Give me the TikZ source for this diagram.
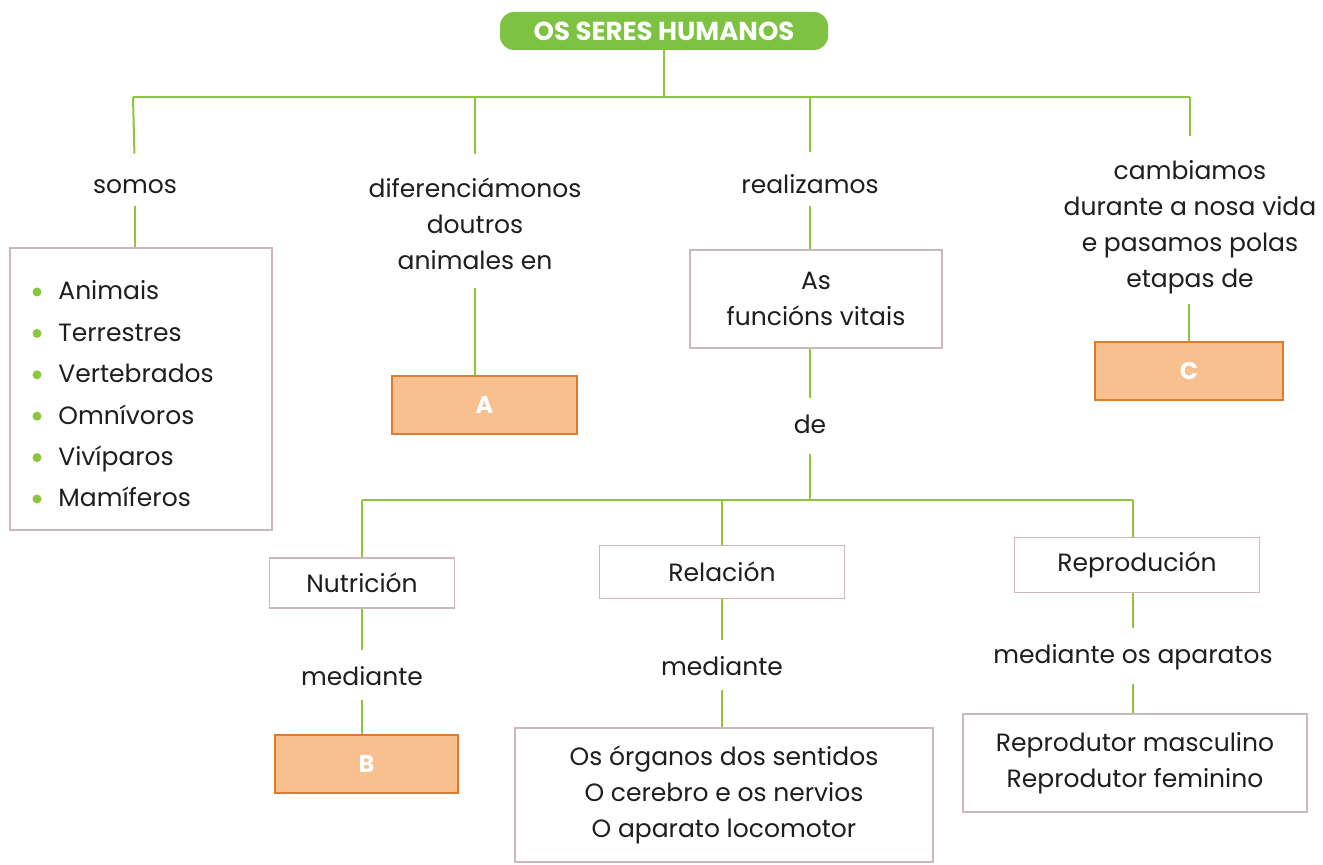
\documentclass[tikz,border=0pt]{standalone}
\usepackage{fontspec}
\setmainfont{Poppins}
\definecolor{grn}{HTML}{8CC63F}
\definecolor{grnT}{HTML}{7DC242}
\definecolor{orL}{HTML}{F9C08F}
\definecolor{orD}{HTML}{E07A2C}
\definecolor{boxc}{HTML}{CDB8C0}
\definecolor{txt}{HTML}{1E1E1E}
\newcommand{\lbf}{\fontsize{12.5pt}{18pt}\selectfont}
\tikzset{
 lbl/.style={font=\lbf, align=center, inner sep=2pt, text=txt},
 wbox/.style={draw=boxc, line width=0.8pt, fill=white, align=center, font=\lbf, text=txt, inner sep=0pt},
 obox/.style={draw=orD, fill=orL, line width=1pt, text=white, font=\bfseries\large, inner sep=0pt},
 conn/.style={draw=grn, line width=1pt},
 item/.style={font=\lbf, text=txt, anchor=base west, inner sep=0pt},
 bul/.style={circle, fill=grn, inner sep=0pt, minimum size=4.5pt}
}
\begin{document}
\begin{tikzpicture}[x=0.5pt,y=-0.5pt]
\useasboundingbox (0,0) rectangle (1323,865);
\fill[white] (0,0) rectangle (1323,865);
% title
\node[fill=grnT, rounded corners=7pt, minimum width=164pt, minimum height=19pt, text=white, font=\bfseries\fontsize{13pt}{15pt}\selectfont, inner sep=0pt] (title) at (664,31) {OS SERES HUMANOS};
\coordinate (j0) at (664,97);
\coordinate (b1) at (133,97);
\coordinate (b2) at (475,97);
\coordinate (b3) at (810,97);
\coordinate (b4) at (1190,97);
% level 1 labels
\node[lbl] (somos) at (135,187) {somos};
\node[lbl] (dif) at (475,224) {diferenciámonos\\doutros\\animales en};
\node[lbl] (real) at (810,184) {realizamos};
\node[lbl] (camb) at (1190,227) {cambiamos\\durante a nosa vida\\e pasamos polas\\etapas de};
% list box
\node[wbox, minimum width=131pt, minimum height=141pt] (list) at (141,389) {};
\foreach \t [count=\i] in {Animais,Terrestres,Vertebrados,Omnívoros,Vivíparos,Mamíferos}{
  \pgfmathsetmacro{\yy}{292+41.4*(\i-1)}
  \node[bul] (bu\i) at (37,\yy) {};
  \node[item] (it\i) at (58,\yy+8) {\t};
}
\node[obox, minimum width=92.5pt, minimum height=29pt] (A) at (484.5,405) {A};
\node[wbox, minimum width=126pt, minimum height=49pt] (fv) at (816,299) {As\\funcións vitais};
\node[obox, minimum width=94pt, minimum height=29pt] (C) at (1189,371) {C};
\node[lbl] (de) at (810,424) {de};
\coordinate (k0) at (810,500);
\coordinate (c1) at (362,500);
\coordinate (c2) at (722,500);
\coordinate (c3) at (1133,500);
% level 2
\node[wbox, minimum width=92.5pt, minimum height=25pt] (nut) at (362,583) {Nutrición};
\node[wbox, minimum width=122.5pt, minimum height=26.5pt] (rel) at (722,572) {Relación};
\node[wbox, minimum width=122.5pt, minimum height=27.5pt] (rep) at (1137,565) {Reprodución};
\node[lbl] (med1) at (362,676) {mediante};
\node[lbl] (med2) at (722,666) {mediante};
\node[lbl] (med3) at (1133,657) {mediante os aparatos};
\node[obox, minimum width=91.5pt, minimum height=29pt] (B) at (366.5,764) {B};
\node[wbox, minimum width=209pt, minimum height=67pt] (org) at (724,795) {Os órganos dos sentidos\\O cerebro e os nervios\\O aparato locomotor};
\node[wbox, minimum width=172pt, minimum height=49pt] (apar) at (1135,763) {Reprodutor masculino\\Reprodutor feminino};
% connectors
\draw[conn] (title.south) -- (j0);
\draw[conn] (b1) -- (b4);
\draw[conn, shorten >=11pt] (b1) -- (somos.north);
\draw[conn, shorten >=10pt] (b2) -- (dif.north);
\draw[conn, shorten >=9pt] (b3) -- (real.north);
\draw[conn, shorten >=10pt] (b4) -- (camb.north);
\draw[conn, shorten <=4pt] (somos.south) -- (list.north -| somos.south);
\draw[conn, shorten <=7pt] (dif.south) -- (A.north -| dif.south);
\draw[conn, shorten <=4pt] (real.south) -- (fv.north -| real.south);
\draw[conn, shorten <=3pt] (camb.south -| C.north) -- (C.north);
\draw[conn, shorten >=6pt] (fv.south -| de.north) -- (de.north);
\draw[conn, shorten <=8pt] (de.south) -- (k0);
\draw[conn] (c1) -- (c3);
\draw[conn] (c1) -- (nut.north);
\draw[conn] (c2) -- (rel.north);
\draw[conn] (c3) -- (rep.north -| c3);
\draw[conn, shorten >=6pt] (nut.south) -- (med1.north);
\draw[conn, shorten <=5pt] (med1.south) -- (B.north -| med1.south);
\draw[conn, shorten >=6pt] (rel.south) -- (med2.north);
\draw[conn, shorten <=5pt] (med2.south) -- (org.north -| med2.south);
\draw[conn, shorten >=6pt] (rep.south -| med3.north) -- (med3.north);
\draw[conn, shorten <=5pt] (med3.south) -- (apar.north -| med3.south);
\end{tikzpicture}
\end{document}
